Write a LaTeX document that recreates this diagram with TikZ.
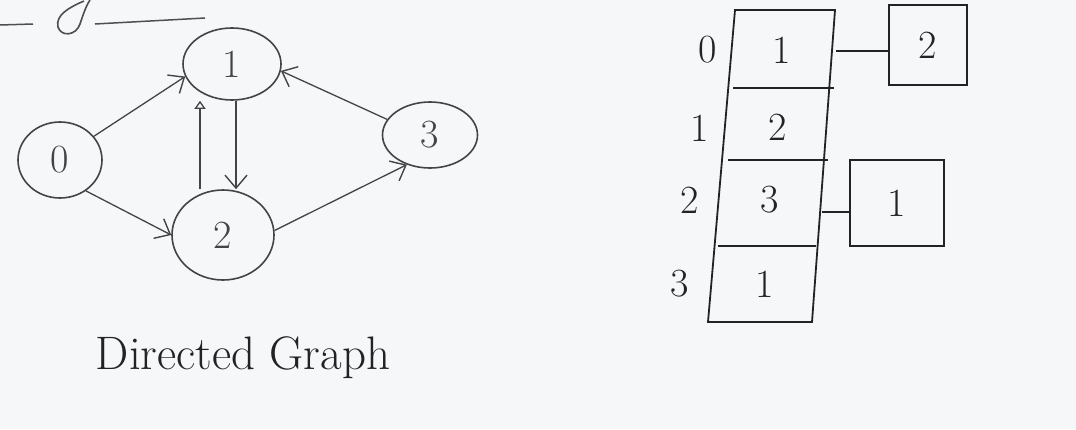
\documentclass[tikz,border=0pt]{standalone}
\usetikzlibrary{shapes.geometric,arrows.meta}
\definecolor{board}{RGB}{246,247,249}
\definecolor{ink}{RGB}{35,35,38}
\tikzset{
  vert/.style={ellipse,draw=ink!85,line width=1.6pt,inner sep=0pt,font=\fontsize{40}{40}\selectfont,text=ink!85},
  edge/.style={draw=ink!85,line width=1.3pt,-{Straight Barb[length=13pt,width=22pt,line width=1.4pt]}},
  cell/.style={font=\fontsize{40}{40}\selectfont,text=ink},
  rowlab/.style={font=\fontsize{40}{40}\selectfont,text=ink},
  box/.style={draw=ink,line width=1.8pt},
}
\begin{document}
\begin{tikzpicture}[x=1pt,y=-1pt]
\fill[board] (0,0) rectangle (1076,429);
\useasboundingbox (0,0) rectangle (1076,429);
% fragments at top left
\draw[ink!80,line width=1.5pt] (0,25) -- (33,24);
\draw[ink!80,line width=1.5pt] (95,24) -- (205,18);
\draw[ink!80,line width=1.6pt] (84,1) .. controls (70,7) and (55,15) .. (58,27) .. controls (61,37) and (76,36) .. (80,24) .. controls (83,15) and (86,6) .. (90,0);
% graph
\node[vert,minimum width=84pt,minimum height=76pt] (n0) at (60,160) {0};
\node[vert,minimum width=98pt,minimum height=72pt] (n1) at (232,64) {1};
\node[vert,minimum width=102pt,minimum height=90pt] (n2) at (223,235) {2};
\node[vert,minimum width=95pt,minimum height=66pt] (n3) at (430,135) {3};
\draw[edge] (n0.35) -- (n1.195);
\draw[edge] (n0.-50) -- (n2.180);
\draw[edge] ([xshift=4pt]n1.south) -- ([xshift=13pt]n2.north);
\draw[draw=ink!85,line width=1.3pt,-{Triangle[open,length=8pt,width=11pt,line width=1.3pt]}] ([xshift=-23pt]n2.north) -- ([xshift=-32pt]n1.south);
\draw[edge] (n2.5) -- (n3.-128);
\draw[edge] (n3.160) -- (n1.-8);
% caption
\node[font=\fontsize{47}{47}\selectfont,text=ink] (cap) at (243,358) {Directed Graph};
% table
\coordinate (tl) at (735,10);
\coordinate (tr) at (835,10);
\coordinate (bl) at (708,322);
\coordinate (br) at (812,322);
\draw[box] (tl) -- (tr) -- (br) -- (bl) -- cycle;
\draw[box,line width=1.5pt] (733,88) -- (834,88);
\draw[box,line width=1.5pt] (728,160) -- (828,160);
\draw[box,line width=1.5pt] (718,246) -- (816,246);
\node[cell] (c0) at (782,50) {1};
\node[cell] (c1) at (778,127) {2};
\node[cell] (c2) at (770,200) {3};
\node[cell] (c3) at (765,284) {1};
\node[rowlab] (r0) at (708,50) {0};
\node[rowlab] (r1) at (700,128) {1};
\node[rowlab] (r2) at (690,200) {2};
\node[rowlab] (r3) at (680,284) {3};
% adjacency boxes
\node[box,minimum width=78pt,minimum height=80pt,cell] (b0) at (928,45) {2};
\node[box,minimum width=94pt,minimum height=86pt,cell] (b2) at (897,203) {1};
\draw[ink,line width=1.5pt] (836,51) -- (b0.west |- 0,51);
\draw[ink,line width=1.5pt] (822,212) -- (b2.west |- 0,212);
\end{tikzpicture}
\end{document}
